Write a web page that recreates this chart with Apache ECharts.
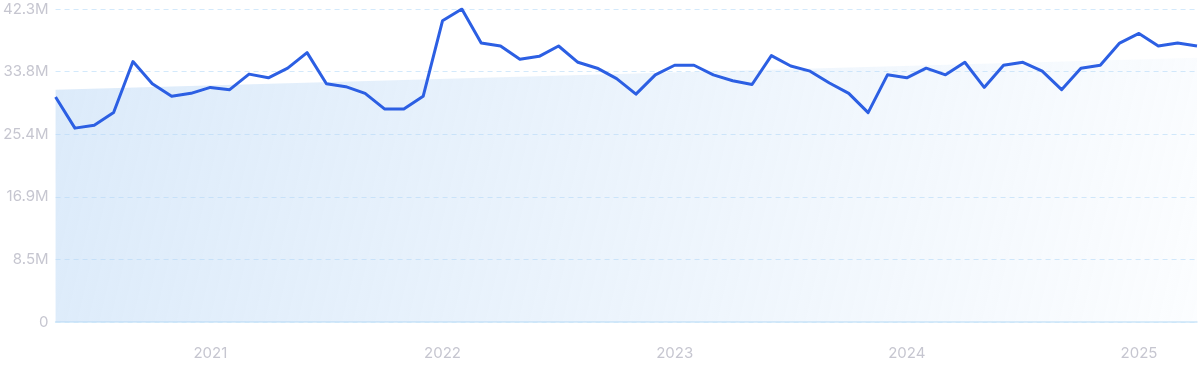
<!DOCTYPE html>
<html>
<head>
<meta charset="utf-8">
<script src="https://cdn.jsdelivr.net/npm/echarts@6/dist/echarts.min.js"></script>
<style>
html,body{margin:0;padding:0;background:#fff;}
#c{width:1200px;height:371px;}
</style>
</head>
<body>
<div id="c"></div>
<script>
var months = [
 "2020-05","2020-06","2020-07","2020-08","2020-09","2020-10","2020-11","2020-12",
 "2021-01","2021-02","2021-03","2021-04","2021-05","2021-06","2021-07","2021-08","2021-09","2021-10","2021-11","2021-12",
 "2022-01","2022-02","2022-03","2022-04","2022-05","2022-06","2022-07","2022-08","2022-09","2022-10","2022-11","2022-12",
 "2023-01","2023-02","2023-03","2023-04","2023-05","2023-06","2023-07","2023-08","2023-09","2023-10","2023-11","2023-12",
 "2024-01","2024-02","2024-03","2024-04","2024-05","2024-06","2024-07","2024-08","2024-09","2024-10","2024-11","2024-12",
 "2025-01","2025-02","2025-03","2025-04"
];
// values in millions
var values = [
 30.4,26.2,26.6,28.3,35.2,32.2,30.5,30.9,
 31.7,31.4,33.5,33.0,34.3,36.4,32.2,31.8,30.9,28.8,28.8,30.5,
 40.7,42.3,37.7,37.3,35.5,35.9,37.3,35.1,34.3,32.9,30.8,33.4,
 34.7,34.7,33.4,32.6,32.1,36.0,34.6,33.9,32.3,30.9,28.3,33.4,
 33.0,34.3,33.4,35.1,31.7,34.7,35.1,33.9,31.4,34.3,34.7,37.7,
 39.0,37.3,37.7,37.3
];
// trend line endpoints (millions)
var trendStart = 31.4;
var trendEnd = 35.7;
var yTickLabels = ["0","8.5M","16.9M","25.4M","33.8M","42.3M"];
var yMax = 42.3, yStep = 8.46;

var chart = echarts.init(document.getElementById('c'), null, {renderer:'canvas'});
var FONT = 'Inter, "Noto Sans", sans-serif';
chart.setOption({
  animation:false,
  grid:{left:55, right:3, top:9, bottom:49},
  xAxis:{
    type:'category', data:months, boundaryGap:false,
    axisLine:{show:true, lineStyle:{color:'#cde6f9', width:1.5}},
    axisTick:{show:false},
    axisLabel:{
      interval:function(i, v){ return v.slice(5)==='01'; },
      formatter:function(v){ return v.slice(0,4); },
      color:'#c6c6d0', fontSize:15, fontFamily:FONT, margin:24
    },
    splitLine:{show:false}
  },
  yAxis:{
    type:'value', min:0, max:yMax, interval:yStep,
    axisLine:{show:false}, axisTick:{show:false},
    axisLabel:{
      formatter:function(v){ var i=Math.round(v/yStep); return yTickLabels[i]; },
      color:'#c6c6d0', fontSize:15, fontFamily:FONT, margin:7
    },
    splitLine:{show:true, lineStyle:{color:'#d3e9fb', type:[5,4], width:1}}
  },
  series:[
    {
      type:'line', data:[[0,trendStart],[months.length-1,trendEnd]],
      symbol:'none', lineStyle:{width:0, opacity:0}, silent:true,
      areaStyle:{
        opacity:1,
        color:new echarts.graphic.LinearGradient(0,0,1,1,[
          {offset:0,color:'rgba(182,213,245,0.48)'},
          {offset:1,color:'rgba(182,213,245,0.05)'}
        ])
      },
      z:1
    },
    {
      type:'line', data:values, symbol:'none', smooth:false,
      lineStyle:{color:'#2c5fe3', width:3, join:'round'},
      z:3
    }
  ]
});
</script>
</body>
</html>
